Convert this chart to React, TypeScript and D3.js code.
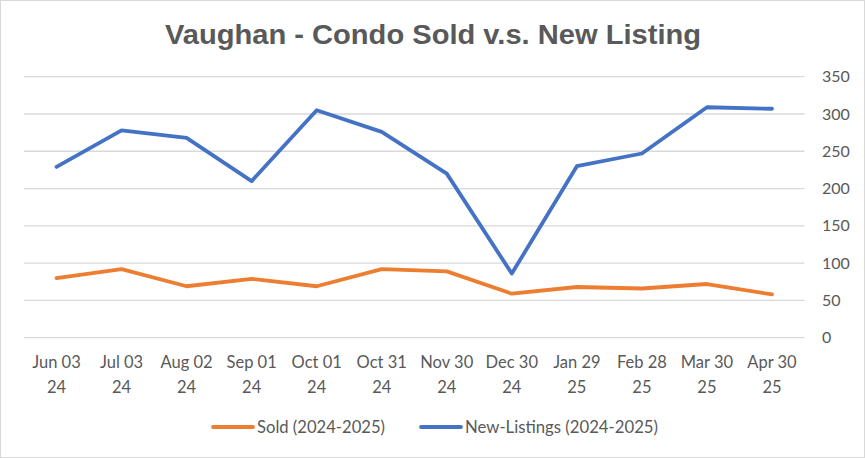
import React from "react";
import * as d3 from "d3";

const categories = [
  ["Jun 03", "24"], ["Jul 03", "24"], ["Aug 02", "24"], ["Sep 01", "24"],
  ["Oct 01", "24"], ["Oct 31", "24"], ["Nov 30", "24"], ["Dec 30", "24"],
  ["Jan 29", "25"], ["Feb 28", "25"], ["Mar 30", "25"], ["Apr 30", "25"],
];
const soldValues = [80, 92, 69, 79, 69, 92, 89, 59, 68, 66, 72, 58];
const newListingValues = [229, 278, 268, 210, 305, 276, 220, 86, 230, 247, 309, 307];
const yTicks = [0, 50, 100, 150, 200, 250, 300, 350];
const seriesNames = ["Sold (2024-2025)", "New-Listings (2024-2025)"];

const W = 865, H = 458;
const FONT = "Lato, 'Open Sans', sans-serif";
const TXT = "#595959";

export default function App() {
  const keys = categories.map((c) => c.join(" "));
  const x = d3.scaleBand<string>().domain(keys).range([24, 804.5]);
  const cx = (i: number) => (x(keys[i]) as number) + x.bandwidth() / 2;
  const y = d3.scaleLinear().domain([0, 350]).range([337.7, 76.7]);
  const line = d3.line<number>().x((_, i) => cx(i)).y((d) => y(d));

  return (
    <svg width={W} height={H} style={{ position: "absolute", left: 0, top: 0, background: "#fff" }}>
      <rect x={0.5} y={0.5} width={W - 1} height={H - 1} fill="#fff" stroke="#d9d9d9" strokeWidth={1} />
      <text x={433} y={43.5} textAnchor="middle" fontFamily="'Liberation Sans', Arial, sans-serif" fontWeight="bold" fontSize={28} fill={TXT} textLength={536} lengthAdjust="spacingAndGlyphs">
        Vaughan - Condo Sold v.s. New Listing
      </text>
      {yTicks.map((t) => (
        <g key={t}>
          <line x1={24} x2={804.5} y1={y(t)} y2={y(t)} stroke="#d9d9d9" strokeWidth={1.3} />
          <text x={822} y={y(t)} dy="0.35em" fontFamily={FONT} fontSize={16} fill={TXT}>{t}</text>
        </g>
      ))}
      {categories.map((c, i) => (
        <g key={i}>
          <text x={cx(i)} y={362} dy="0.35em" textAnchor="middle" fontFamily={FONT} fontSize={16.5} fill={TXT}>{c[0]}</text>
          <text x={cx(i)} y={387} dy="0.35em" textAnchor="middle" fontFamily={FONT} fontSize={16.5} fill={TXT}>{c[1]}</text>
        </g>
      ))}
      <path d={line(soldValues) || ""} fill="none" stroke="#ED7D31" strokeWidth={3.8} strokeLinejoin="round" strokeLinecap="round" />
      <path d={line(newListingValues) || ""} fill="none" stroke="#4472C4" strokeWidth={3.8} strokeLinejoin="round" strokeLinecap="round" />
      <g>
        <line x1={213} x2={253} y1={427} y2={427} stroke="#ED7D31" strokeWidth={3.8} strokeLinecap="round" />
        <text x={257} y={427} dy="0.35em" fontFamily={FONT} fontSize={16.5} fill={TXT} textLength={128} lengthAdjust="spacingAndGlyphs">{seriesNames[0]}</text>
        <line x1={421} x2={461} y1={427} y2={427} stroke="#4472C4" strokeWidth={3.8} strokeLinecap="round" />
        <text x={465} y={427} dy="0.35em" fontFamily={FONT} fontSize={16.5} fill={TXT} textLength={193} lengthAdjust="spacingAndGlyphs">{seriesNames[1]}</text>
      </g>
    </svg>
  );
}
